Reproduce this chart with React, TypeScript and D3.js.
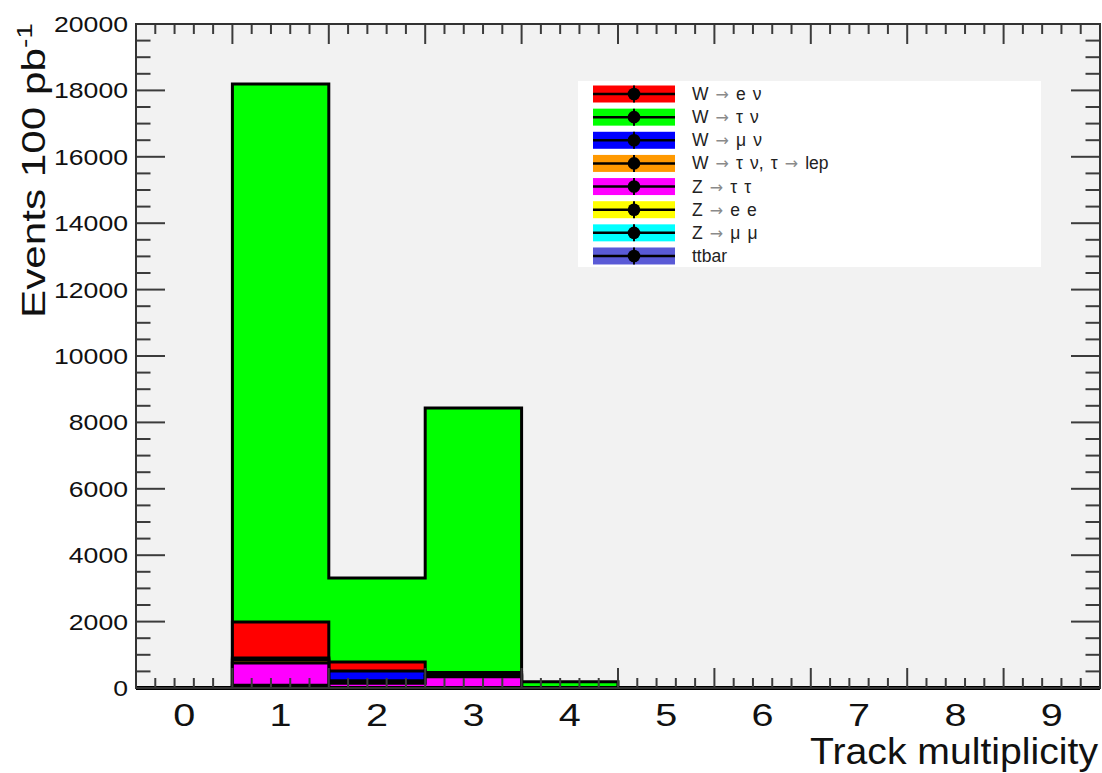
import { useEffect, useRef } from "react";
import * as d3 from "d3";

// bins of track multiplicity
const binLabels = ["0", "1", "2", "3", "4", "5", "6", "7", "8", "9"];

// events per bin
const wENu = [0, 1090, 271, 60, 0, 0, 0, 0, 0, 0];
const wTauNu = [0, 16200, 2530, 7967, 190, 0, 0, 0, 0, 0];
const wMuNu = [0, 60, 295, 30, 0, 0, 0, 0, 0, 0];
const wTauLep = [0, 90, 72, 40, 0, 0, 0, 0, 0, 0];
const zTauTau = [0, 670, 135, 327, 0, 0, 0, 0, 0, 0];
const zEE = [0, 40, 5, 5, 0, 0, 0, 0, 0, 0];
const zMuMu = [0, 30, 5, 5, 0, 0, 0, 0, 0, 0];
const ttbar = [0, 10, 0, 0, 0, 0, 0, 0, 0, 0];

const yMax = 20000;

// legend order
const series = [
  { key: "wENu", label: "W → e ν", values: wENu, color: "#ff0000" },
  { key: "wTauNu", label: "W → τ ν", values: wTauNu, color: "#00ff00" },
  { key: "wMuNu", label: "W → μ ν", values: wMuNu, color: "#0000ff" },
  { key: "wTauLep", label: "W → τ ν, τ → lep", values: wTauLep, color: "#ff9900" },
  { key: "zTauTau", label: "Z → τ τ", values: zTauTau, color: "#ff00ff" },
  { key: "zEE", label: "Z → e e", values: zEE, color: "#ffff00" },
  { key: "zMuMu", label: "Z → μ μ", values: zMuMu, color: "#00ffff" },
  { key: "ttbar", label: "ttbar", values: ttbar, color: "#5a5ad6" },
];

// bottom to top in the stack
const stackOrder = ["ttbar", "zMuMu", "zEE", "zTauTau", "wTauLep", "wMuNu", "wENu", "wTauNu"];

const W = 1102;
const H = 773;
const frame = { left: 136, right: 1100, top: 24, bottom: 688 };
const font = "'Liberation Sans', Arial, Helvetica, sans-serif";

const App = () => {
  const svgRef = useRef<SVGSVGElement>(null);

  useEffect(() => {
    const svg = d3.select(svgRef.current);
    svg.selectAll("*").remove();

    svg.append("rect").attr("width", W).attr("height", H).attr("fill", "#ffffff");
    svg
      .append("rect")
      .attr("x", frame.left)
      .attr("y", frame.top)
      .attr("width", frame.right - frame.left)
      .attr("height", frame.bottom - frame.top)
      .attr("fill", "#f2f2f2");

    const nBins = binLabels.length;
    const x = d3.scaleLinear().domain([-0.5, nBins - 0.5]).range([frame.left, frame.right]);
    const y = d3.scaleLinear().domain([0, yMax]).range([frame.bottom, frame.top]);

    const rows = binLabels.map((_, i) => {
      const r: Record<string, number> = {};
      series.forEach((s) => (r[s.key] = s.values[i]));
      return r;
    });
    const stacked = d3.stack<Record<string, number>>().keys(stackOrder)(rows);
    const colorOf = (k: string) => series.find((s) => s.key === k)!.color;

    const area = d3
      .area<[number, number]>()
      .x((d) => x(d[0]))
      .y0(y(0))
      .y1((d) => y(d[1]))
      .curve(d3.curveStepAfter);

    // draw the cumulative histograms from the total down, like THStack
    const hg = svg.append("g");
    stacked
      .slice()
      .reverse()
      .forEach((layer) => {
        const pts: [number, number][] = layer.map((d, i) => [i - 0.5, d[1]]);
        pts.push([nBins - 0.5, layer[nBins - 1][1]]);
        hg.append("path")
          .attr("d", area(pts))
          .attr("fill", colorOf(layer.key))
          .attr("stroke", "#000")
          .attr("stroke-width", 3)
          .attr("stroke-linejoin", "miter");
      });

    // ticks on all four sides
    const tg = svg.append("g").attr("stroke", "#3c3c3c").attr("stroke-width", 2);
    for (let k = 0; k <= nBins * 5; k++) {
      const v = -0.5 + k * 0.2;
      const len = k % 5 === 0 ? 20 : 10;
      const px = x(v);
      tg.append("line").attr("x1", px).attr("x2", px).attr("y1", frame.bottom).attr("y2", frame.bottom - len);
      tg.append("line").attr("x1", px).attr("x2", px).attr("y1", frame.top).attr("y2", frame.top + len);
    }
    for (let k = 0; k <= yMax / 500; k++) {
      const v = k * 500;
      const len = k % 4 === 0 ? 29 : 14.5;
      const py = y(v);
      tg.append("line").attr("x1", frame.left).attr("x2", frame.left + len).attr("y1", py).attr("y2", py);
      tg.append("line").attr("x1", frame.right).attr("x2", frame.right - len).attr("y1", py).attr("y2", py);
    }

    svg
      .append("rect")
      .attr("x", frame.left)
      .attr("y", frame.top)
      .attr("width", frame.right - frame.left)
      .attr("height", frame.bottom - frame.top)
      .attr("fill", "none")
      .attr("stroke", "#333")
      .attr("stroke-width", 2);

    // y tick labels
    const yTicks = d3.range(0, yMax + 1, 2000);
    svg
      .append("g")
      .selectAll("text")
      .data(yTicks)
      .join("text")
      .attr("x", 128)
      .attr("y", (d) => y(d))
      .attr("dy", "0.36em")
      .attr("text-anchor", "end")
      .attr("font-family", font)
      .attr("font-size", 22)
      .attr("fill", "#111")
      .attr("textLength", (d) => String(d).length * 14.8)
      .attr("lengthAdjust", "spacingAndGlyphs")
      .text((d) => String(d));

    // x tick labels at bin centres
    svg
      .append("g")
      .selectAll("text")
      .data(binLabels)
      .join("text")
      .attr("x", (_, i) => x(i))
      .attr("y", 726)
      .attr("text-anchor", "middle")
      .attr("font-family", font)
      .attr("font-size", 32)
      .attr("fill", "#111")
      .attr("textLength", 22)
      .attr("lengthAdjust", "spacingAndGlyphs")
      .text((d) => d);

    svg
      .append("text")
      .attr("x", 1098)
      .attr("y", 764)
      .attr("text-anchor", "end")
      .attr("font-family", font)
      .attr("font-size", 37)
      .attr("fill", "#111")
      .attr("textLength", 288)
      .attr("lengthAdjust", "spacingAndGlyphs")
      .text("Track multiplicity");

    const yt = svg
      .append("text")
      .attr("transform", "translate(45,318) rotate(-90)")
      .attr("font-family", font)
      .attr("font-size", 33)
      .attr("fill", "#111")
      .attr("textLength", 295)
      .attr("lengthAdjust", "spacingAndGlyphs");
    yt.append("tspan").text("Events 100 pb");
    yt.append("tspan").attr("font-size", 22).attr("dy", -13).text("-1");

    // legend
    const lg = svg.append("g");
    lg.append("rect").attr("x", 578).attr("y", 81).attr("width", 463).attr("height", 186).attr("fill", "#ffffff");
    series.forEach((s, i) => {
      const cy = 94 + i * 23.14;
      lg.append("rect").attr("x", 593).attr("y", cy - 8.5).attr("width", 82).attr("height", 17).attr("fill", s.color);
      lg.append("line").attr("x1", 593).attr("x2", 675).attr("y1", cy).attr("y2", cy).attr("stroke", "#000").attr("stroke-width", 2.5);
      lg.append("line").attr("x1", 634).attr("x2", 634).attr("y1", cy - 8.5).attr("y2", cy + 8.5).attr("stroke", "#000").attr("stroke-width", 2);
      lg.append("circle").attr("cx", 634).attr("cy", cy).attr("r", 6.3).attr("fill", "#000");
      const t = lg
        .append("text")
        .attr("x", 692)
        .attr("y", cy + 6)
        .attr("font-family", font)
        .attr("font-size", 17.5)
        .attr("fill", "#222")
        .attr("word-spacing", 2.2);
      s.label.split("→").forEach((part, j) => {
        if (j > 0)
          t.append("tspan")
            .attr("font-family", "'DejaVu Sans', sans-serif")
            .attr("font-size", 16)
            .attr("fill", "#8a8a8a")
            .text("→");
        t.append("tspan").text(part);
      });
    });
  }, []);

  return (
    <svg
      ref={svgRef}
      width={W}
      height={H}
      style={{ position: "absolute", left: 0, top: 0, display: "block" }}
    ></svg>
  );
};

export default App;
